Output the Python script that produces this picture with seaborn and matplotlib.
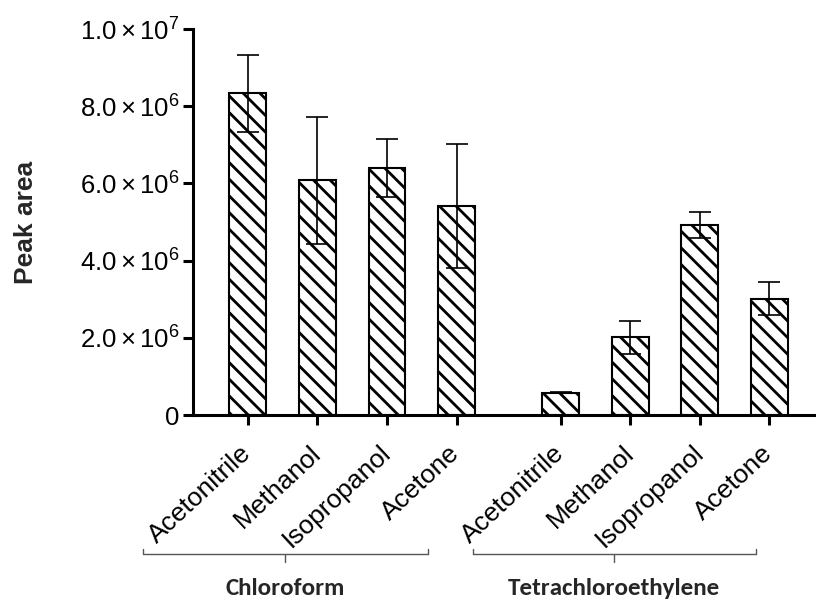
import numpy as np
import pandas as pd
import matplotlib
matplotlib.use("Agg")
import matplotlib.pyplot as plt
import seaborn as sns

# ---- data ----
groups = ["Chloroform", "Tetrachloroethylene"]
solvents = ["Acetonitrile", "Methanol", "Isopropanol", "Acetone"]
chloroform_mean = [8.33e6, 6.08e6, 6.40e6, 5.42e6]
chloroform_sd = [1.00e6, 1.65e6, 0.75e6, 1.61e6]
tetra_mean = [0.58e6, 2.01e6, 4.92e6, 3.01e6]
tetra_sd = [0.01e6, 0.43e6, 0.33e6, 0.43e6]
yticks = [0, 2e6, 4e6, 6e6, 8e6, 1e7]
ytick_labels = ["0", r"$2.0\times10^{6}$", r"$4.0\times10^{6}$",
                r"$6.0\times10^{6}$", r"$8.0\times10^{6}$", r"$1.0\times10^{7}$"]

sns.set_theme(style="ticks")
plt.rcParams["font.family"] = ["Liberation Sans", "DejaVu Sans"]
plt.rcParams["mathtext.fontset"] = "custom"
plt.rcParams["mathtext.rm"] = "Liberation Sans"
plt.rcParams["mathtext.it"] = "Liberation Sans:italic"
plt.rcParams["mathtext.bf"] = "Liberation Sans:bold"
plt.rcParams["hatch.linewidth"] = 2.0
plt.rcParams["hatch.color"] = "black"

gap = 0.5
rows = []
for gi, (g, means, sds) in enumerate([(groups[0], chloroform_mean, chloroform_sd),
                                      (groups[1], tetra_mean, tetra_sd)]):
    for si, s in enumerate(solvents):
        rows.append({"group": g, "solvent": s, "pos": gi * (len(solvents) + gap) + si,
                     "mean": means[si], "sd": sds[si]})
df = pd.DataFrame(rows)

fig = plt.figure(figsize=(8.16, 6.0), dpi=100)
ax = fig.add_axes([0.2365, 0.3083, 0.7635, 0.6433])

sns.barplot(data=df, x="pos", y="mean", native_scale=True, width=0.53,
            color="white", edgecolor="black", linewidth=1.5, errorbar=None, ax=ax)
for p in ax.patches:
    p.set_hatch("\\\\")
    p.set_facecolor("white")
    p.set_edgecolor("black")

ax.errorbar(df["pos"], df["mean"], yerr=df["sd"], fmt="none", ecolor="black",
            elinewidth=1.2, capsize=8, capthick=1.2, zorder=5)

ax.set_xlim(-0.79, 8.17)
ax.set_ylim(0, 1e7)
ax.set_yticks(yticks)
ax.set_yticklabels(ytick_labels, fontsize=18.5)
ax.set_xticks(df["pos"])
ax.set_xticklabels(df["solvent"], rotation=43, ha="right", va="center",
                   rotation_mode="anchor", fontsize=19)
ax.tick_params(axis="both", direction="out", length=7, width=2.2, colors="black")
ax.tick_params(axis="x", pad=18)
ax.tick_params(axis="y", pad=3)
ax.set_xlabel("")
ax.set_ylabel("Peak area", fontsize=19, fontweight="bold", labelpad=30)

for side in ["top", "right"]:
    ax.spines[side].set_visible(False)
for side in ["left", "bottom"]:
    ax.spines[side].set_linewidth(2.2)
    ax.spines[side].set_color("black")

# group brackets (start/end offsets relative to first/last bar of each group)
bracket_offsets = [(-1.51, -0.41), (-1.27, -0.19)]
trans = matplotlib.transforms.blended_transform_factory(ax.transData, ax.transAxes)
yb = -0.36
for g, (o0, o1) in zip(groups, bracket_offsets):
    sub = df[df["group"] == g]
    x0 = sub["pos"].min() + o0
    x1 = sub["pos"].max() + o1
    xm = (x0 + x1) / 2
    ax.plot([x0, x0, x1, x1], [yb + 0.012, yb, yb, yb + 0.012], transform=trans,
            color="#555555", lw=1.0, clip_on=False)
    ax.plot([xm, xm], [yb, yb - 0.02], transform=trans, color="#555555", lw=1.0,
            clip_on=False)
    ax.text(xm, yb - 0.09, g, transform=trans, ha="center", va="center",
            fontsize=18, fontweight="bold", family=["Carlito", "Lato", "DejaVu Sans"])

fig.savefig("out.png", dpi=100)
